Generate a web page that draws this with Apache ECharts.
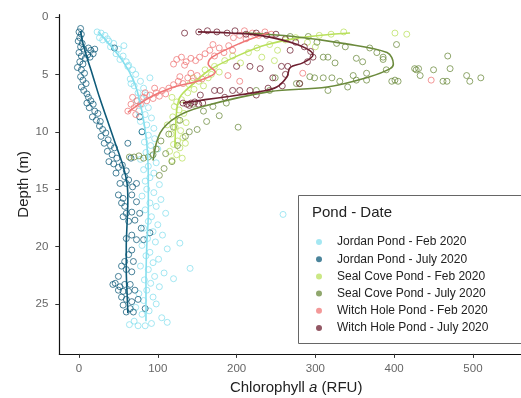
<!DOCTYPE html>
<html>
<head>
<meta charset="utf-8">
<script src="https://cdn.jsdelivr.net/npm/echarts@6/dist/echarts.min.js"></script>
<style>html,body{margin:0;padding:0;background:#fff;}#c{width:521px;height:398px;}</style>
</head>
<body>
<div id="c"></div>
<script>
// ---- tick labels ----
const xTicks = [0, 100, 200, 300, 400, 500];
const yTicks = [0, 5, 10, 15, 20, 25];

// ---- categories ----
const pondNames = [
  'Jordan Pond - Feb 2020',
  'Jordan Pond - July 2020',
  'Seal Cove Pond - Feb 2020',
  'Seal Cove Pond - July 2020',
  'Witch Hole Pond - Feb 2020',
  'Witch Hole Pond - July 2020'
];
const pondColors = ['#86dfee', '#0f5b79', '#b9e05c', '#6b8a3c', '#ef7676', '#6d1f30'];

// ---- observations [chlorophyll, depth] ----
const jordanFeb = [
  [23,1.3],[28,1.4],[33,1.6],[26,1.8],[36,1.9],[30,2.0],
  [38,2.1],[44,2.3],[40,2.6],[50,2.8],[47,3.2],[56,3.4],[52,3.7],[60,3.9],[63,4.2],[57,2.5],
  [62,4.3],[68,4.6],[72,5.0],[65,5.4],[78,5.6],[70,6.0],[82,6.2],[75,6.6],[86,6.8],[79,7.1],[66,5.8],[90,5.3],
  [73,7.3],[80,7.6],[88,7.9],[76,8.2],[84,8.5],[92,8.8],[78,9.1],[86,9.4],[95,9.7],
  [80,10.0],[88,10.3],[96,10.6],[83,10.9],[91,11.2],[100,11.5],[85,11.8],[93,12.1],[78,12.4],[98,12.7],[88,13.0],[82,13.3],[95,13.6],[90,14.0],[84,14.3],[102,14.6],
  [86,15.0],[95,15.3],[80,15.6],[104,15.9],[90,16.2],[98,16.5],[84,16.8],[110,17.1],[92,17.4],[88,17.8],[100,18.1],[82,18.4],[94,18.7],[106,19.0],[87,19.3],[97,19.6],[80,19.9],[112,20.2],[90,20.5],[85,20.8],[101,21.1],[94,21.4],[78,21.7],[88,22.0],[108,22.3],[96,22.6],[83,22.9],[91,23.2],[102,23.5],[86,23.8],[76,24.1],[94,24.4],[82,24.7],[98,25.0],[72,25.3],[89,25.6],[80,25.9],[105,26.2],[70,26.5],[92,26.7],[84,26.9],[64,26.8],[112,26.6],[75,26.9],
  [128,19.7],[141,21.9],[259,17.2],[120,22.8]
];
const jordanJuly = [
  [2,1.0],[0,1.3],[3,1.5],[1,1.8],[-1,2.1],[4,2.3],[2,2.6],[6,2.8],[0,3.1],[3,3.4],[8,3.6],[1,3.9],[5,4.1],[-2,4.4],[3,4.6],[7,4.9],[2,5.2],[5,5.5],[9,5.8],[3,6.1],[6,6.4],[10,6.7],
  [12,2.7],[15,2.9],[18,3.2],[20,2.8],[14,3.5],[11,3.3],[45,2.7],
  [12,7.0],[15,7.3],[18,7.6],[13,7.9],[20,8.2],[24,8.4],[17,8.7],[22,9.0],[27,9.1],[10,7.5],
  [26,9.5],[30,9.8],[34,10.1],[28,10.4],[37,10.7],[32,11.0],[40,11.2],[45,11.4],[36,11.7],[42,12.0],[48,12.3],[38,12.6],
  [77,8.7],[80,10.0],[62,11.0],[66,12.3],
  [44,12.8],[50,13.1],[55,12.9],[60,13.4],[47,13.6],[58,13.9],[63,14.2],[52,14.5],[68,14.8],
  [60,14.5],[73,14.5],[50,15.5],[56,15.8],[67,15.5],[73,16.1],[54,16.2],[58,16.5],[60,17.1],[67,17.0],[56,17.4],[63,17.8],[71,17.7],[77,17.1],[79,18.4],[67,19.0],[73,19.4],[60,19.3],[90,18.8],[82,19.4],[67,20.3],[63,20.7],[58,21.3],[69,21.3],[54,21.7],[60,22.0],[67,22.2],[50,22.6],[46,23.2],[52,23.5],[58,23.3],[65,23.3],[56,23.9],[63,23.9],[71,23.8],[54,24.4],[60,24.6],[67,24.8],[56,25.1],[65,25.4],[60,25.7],[69,25.7],[84,25.4],[50,23.8],[43,23.3],[75,24.6]
];
const sealFeb = [
  [118,7.0],[124,7.4],[130,7.2],[121,7.8],[127,8.1],[133,8.4],[119,8.7],[126,9.0],[136,9.2],[122,9.6],[129,9.9],[117,10.2],[132,10.5],[125,10.8],[120,11.1],[128,11.4],[115,11.7],[124,12.0],[131,12.3],[118,12.5],[135,11.0],[112,9.4],
  [140,5.9],[146,6.3],[152,5.6],[138,6.6],[158,6.0],[145,5.3],
  [160,4.6],[168,5.0],[172,4.3],[178,4.8],[164,5.3],
  [185,3.8],[195,3.4],[205,4.0],[215,3.1],[226,2.7],[232,3.5],[242,2.4],[252,2.9],[262,2.0],[275,1.8],[290,2.2],[305,1.6],[320,1.5],[336,1.3],[300,2.6],[248,3.8],
  [401,1.4],[416,1.5]
];
const sealJuly = [
  [64,12.2],[70,12.2],[76,12.1],[82,12.3],[88,12.2],[94,12.0],
  [98,11.5],[104,10.8],[110,11.9],[114,10.2],[120,9.6],[128,9.0],[135,10.4],[118,12.6],[108,13.2],[102,13.8],[140,10.0],[125,11.2],[150,9.8],[202,9.6],
  [145,7.6],[158,8.2],[170,7.8],[162,9.1],[178,8.6],[187,7.5],[225,6.4],[242,6.4],
  [369,2.7],[310,3.5],[316,3.5],[325,4.0],[352,3.6],[360,3.9],[378,3.1],[386,3.5],[390,4.6],[401,5.5],[397,5.6],[405,5.6],[365,4.9],[331,5.6],[321,5.3],[310,5.3],[299,5.3],[316,6.4],[341,6.1],[352,5.5],[280,5.8],[249,5.3],
  [302,2.2],[327,2.3],[338,2.6],[291,1.7],[268,1.7],[365,5.5],[348,5.1],[293,5.2],[276,5.8],[386,3.7],
  [428,4.6],[426,4.5],[431,4.5],[433,5.1],[450,4.6],[471,4.5],[462,5.6],[467,5.6],[492,5.1],[496,5.6],[510,5.3],[468,3.4],[403,2.4]
];
const witchFeb = [
  [62,8.2],[66,7.6],[70,7.9],[74,7.3],[78,7.6],[82,7.0],[86,7.3],[90,6.8],[94,7.1],[98,6.6],[102,6.9],[106,6.4],[110,6.7],[114,6.2],[72,8.5],[84,6.6],[96,6.2],[68,7.0],
  [120,5.9],[126,5.6],[132,5.8],[138,5.3],[144,5.6],[150,5.1],[156,5.4],[128,5.2],[142,4.9],
  [124,3.7],[130,3.5],[136,3.9],[142,3.6],[148,3.8],[153,3.5],[134,4.2],[120,4.1],
  [160,3.2],[166,2.9],[172,3.4],[178,2.7],[184,3.1],[190,2.5],[195,2.9],[170,2.4],
  [196,1.8],[204,1.6],[212,1.9],[220,1.4],[228,1.6],[236,1.3],[244,1.5],[210,1.2],
  [204,5.6],[189,5.1],[284,4.9],[447,5.5]
];
const witchJuly = [
  [134,1.4],[152,1.3],[163,1.2],[175,1.3],[188,1.4],[198,1.2],[212,1.5],[225,1.4],[238,1.6],[250,1.5],[262,1.9],[275,2.2],[286,2.6],[294,3.0],[268,2.9],[297,3.5],[290,3.9],
  [200,4.3],[217,4.3],[230,4.5],[257,4.3],[265,4.3],[246,5.3],[280,5.8],[262,5.0],[258,6.0],[240,6.2],[172,6.4],[179,6.4],[195,6.4],[204,6.4],[217,6.4],[154,6.8],[225,6.8],[185,7.0],
  [132,7.5],[137,7.6],[142,7.5],[147,7.4],[152,7.6],[157,7.5],[140,7.7]
];

// ---- smoothed fits [chlorophyll, depth] ----
const jordanFebFit = [[25,1.3],[40,2.5],[57,4.0],[69,5.5],[76,7.0],[82,9.0],[86,11.0],[88,14.0],[88,17.0],[86,20.0],[85,23.0],[85,26.5]];
const jordanJulyFit = [[2,1.2],[4,2.0],[10,3.5],[17,5.0],[26,7.0],[36,9.0],[46,11.0],[56,13.0],[61,14.5],[62,16.0],[61,18.0],[60,20.0],[60,22.0],[61,24.0],[62,25.8]];
const sealFebFit = [[122,11.3],[123,9.0],[128,7.0],[147,5.7],[166,4.6],[204,3.3],[239,2.4],[281,1.8],[344,1.4]];
const sealJulyFit = [[210,1.4],[272,1.7],[335,2.3],[391,3.1],[399,4.1],[395,4.5],[369,5.2],[315,6.1],[242,6.5],[157,7.8],[124,8.7],[103,10.1],[94,12.5]];
const witchFebFit = [[240,1.4],[204,2.3],[169,3.5],[164,4.1],[173,4.8],[154,5.5],[116,6.2],[90,7.0],[62,8.3]];
const witchJulyFit = [[151,1.3],[192,1.4],[230,1.6],[277,2.4],[297,3.3],[284,4.0],[268,4.4],[264,5.2],[251,6.1],[230,6.5],[192,6.9],[160,7.2],[132,7.5]];

const obs = [jordanFeb, jordanJuly, sealFeb, sealJuly, witchFeb, witchJuly];
const fits = [jordanFebFit, jordanJulyFit, sealFebFit, sealJulyFit, witchFebFit, witchJulyFit];

const FONT = '"Liberation Sans", Arial, sans-serif';
const series = [];
pondNames.forEach((n, i) => {
  series.push({
    name: n, type: 'scatter', data: obs[i], symbol: 'circle', symbolSize: 6,
    itemStyle: { color: 'rgba(255,255,255,0)', borderColor: pondColors[i], borderWidth: 1, opacity: 0.75 },
    emphasis: { disabled: true }, z: 2
  });
});
pondNames.forEach((n, i) => {
  series.push({
    name: n, type: 'line', data: fits[i], showSymbol: false, smooth: 0.35,
    lineStyle: { color: pondColors[i], width: 1.6 }, z: 3, emphasis: { disabled: true }
  });
});

const chart = echarts.init(document.getElementById('c'), null, { renderer: 'canvas' });
chart.setOption({
  animation: false,
  backgroundColor: '#fff',
  grid: { left: 59.3, right: 0, top: 14.7, bottom: 44.1, containLabel: false, outerBoundsMode: 'none' },
  xAxis: {
    type: 'value', min: -25, max: 561,
    splitLine: { show: false },
    axisLine: { show: true, onZero: false, lineStyle: { color: '#111', width: 1.2 } },
    axisTick: { show: true, length: 4, lineStyle: { color: '#333' }, customValues: xTicks },
    axisLabel: { color: '#666', fontSize: 11.5, fontFamily: FONT, margin: 9, customValues: xTicks },
    name: '{n|Chlorophyll }{i|a}{n| (RFU)}', nameLocation: 'middle', nameGap: 26, nameMoveOverlap: false,
    nameTextStyle: { padding: [0, 0, 0, 12], rich: {
      n: { fontSize: 15, fontFamily: FONT, color: '#222' },
      i: { fontSize: 15, fontFamily: FONT, color: '#222', fontStyle: 'italic' } } }
  },
  yAxis: {
    type: 'value', inverse: true, min: -0.2, max: 29.35,
    splitLine: { show: false },
    axisLine: { show: true, onZero: false, lineStyle: { color: '#111', width: 1.2 } },
    axisTick: { show: true, length: 4, lineStyle: { color: '#333' }, customValues: yTicks },
    axisLabel: { color: '#666', fontSize: 11.5, fontFamily: FONT, margin: 11, customValues: yTicks },
    name: 'Depth (m)', nameLocation: 'middle', nameGap: 28, nameRotate: 90, nameMoveOverlap: false,
    nameTextStyle: { fontSize: 15, fontFamily: FONT, color: '#222' }
  },
  legend: {
    orient: 'vertical', left: 311, top: 230, z: 120,
    itemWidth: 6, itemHeight: 6, itemGap: 3.2, icon: 'circle',
    selectedMode: false,
    data: pondNames.map((n, i) => ({ name: n, itemStyle: { color: pondColors[i], borderWidth: 0 } })),
    textStyle: { fontSize: 12, fontFamily: FONT, color: '#222', lineHeight: 14, padding: [0, 0, 0, 10] }
  },
  graphic: [
    { type: 'rect', z: 100, shape: { x: 298.5, y: 195.5, width: 240, height: 148 },
      style: { fill: '#fff', stroke: '#666', lineWidth: 1 } },
    { type: 'text', z: 110, left: 312, top: 205,
      style: { text: 'Pond - Date', fontSize: 15, fontFamily: FONT, fill: '#222' } }
  ],
  series: series
});
</script>
</body>
</html>
